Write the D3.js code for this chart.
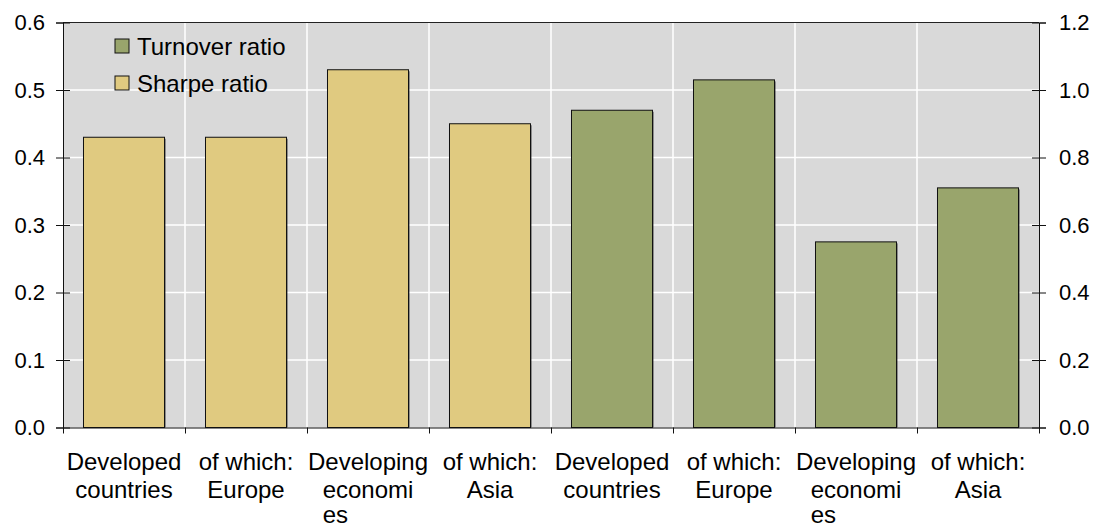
<!DOCTYPE html>
<html>
<head>
<meta charset="utf-8">
<script src="https://cdn.jsdelivr.net/npm/d3@7"></script>
<style>
    body { margin: 0; background: #fff; }
    svg { display: block; font-family: "Liberation Sans", Arial, sans-serif; }
</style>
</head>
<body>
<svg id="chart"></svg>
<script>
// categories (each entry = wrapped label lines)
const categories = [
    ["Developed", "countries"],
    ["of which:", "Europe"],
    ["Developing", "economi", "es"],
    ["of which:", "Asia"],
    ["Developed", "countries"],
    ["of which:", "Europe"],
    ["Developing", "economi", "es"],
    ["of which:", "Asia"]
];
// Sharpe ratio on left axis (first four categories)
const sharpeRatio = [0.43, 0.43, 0.53, 0.45];
// Turnover ratio on right axis (last four categories)
const turnoverRatio = [0.94, 1.03, 0.55, 0.71];
const leftTicks = [0, 0.1, 0.2, 0.3, 0.4, 0.5, 0.6];
const rightTicks = [0, 0.2, 0.4, 0.6, 0.8, 1.0, 1.2];

const width = 1096, height = 528;
const margin = { top: 22.5, right: 57, bottom: 100.5, left: 63 };
const plotW = width - margin.left - margin.right;
const plotH = height - margin.top - margin.bottom;

const colors = { sharpe: "#e0ca80", turnover: "#99a56c", bg: "#d9d9d9" };

const svg = d3.select("#chart")
    .attr("width", width)
    .attr("height", height);

const g = svg.append("g")
    .attr("transform", `translate(${margin.left},${margin.top})`);

// Scales
const x = d3.scaleBand()
    .domain(d3.range(categories.length))
    .range([0, plotW])
    .paddingInner(0.336)
    .paddingOuter(0.168);

const xEdge = d3.scaleLinear()
    .domain([0, categories.length])
    .range([0, plotW]);

const yLeft = d3.scaleLinear().domain([0, 0.6]).range([plotH, 0]);
const yRight = d3.scaleLinear().domain([0, 1.2]).range([plotH, 0]);

// Plot background
g.append("rect")
    .attr("width", plotW)
    .attr("height", plotH)
    .attr("fill", colors.bg);

// Grid
g.append("g")
    .selectAll("line")
    .data(leftTicks.slice(1, -1))
    .join("line")
    .attr("x1", 0).attr("x2", plotW)
    .attr("y1", d => yLeft(d)).attr("y2", d => yLeft(d))
    .attr("stroke", "#fff")
    .attr("stroke-width", 1.5);

g.append("g")
    .selectAll("line")
    .data(d3.range(1, categories.length))
    .join("line")
    .attr("x1", d => xEdge(d)).attr("x2", d => xEdge(d))
    .attr("y1", 0).attr("y2", plotH)
    .attr("stroke", "#fff")
    .attr("stroke-width", 1.5);

// Bars
const bars = [
    ...sharpeRatio.map((v, i) => ({ idx: i, y: yLeft(v), fill: colors.sharpe })),
    ...turnoverRatio.map((v, i) => ({ idx: i + sharpeRatio.length, y: yRight(v), fill: colors.turnover }))
];

g.append("g")
    .selectAll("rect")
    .data(bars)
    .join("rect")
    .attr("x", d => x(d.idx) + 1.5)
    .attr("y", d => d.y + 1.5)
    .attr("width", x.bandwidth())
    .attr("height", d => plotH - d.y - 1.5)
    .attr("fill", "rgba(0,0,0,0.35)");

g.append("g")
    .selectAll("rect")
    .data(bars)
    .join("rect")
    .attr("x", d => x(d.idx))
    .attr("y", d => d.y)
    .attr("width", x.bandwidth())
    .attr("height", d => plotH - d.y)
    .attr("fill", d => d.fill)
    .attr("stroke", "#111")
    .attr("stroke-width", 1);

// Plot frame (top border)
g.append("line")
    .attr("x1", 0).attr("x2", plotW)
    .attr("y1", 0).attr("y2", 0)
    .attr("stroke", "#222");

// Axes
const leftAxis = g.append("g")
    .call(d3.axisLeft(yLeft)
        .tickValues(leftTicks)
        .tickSize(7)
        .tickPadding(11)
        .tickFormat(d3.format(".1f")));
g.append("g")
    .call(d3.axisRight(yLeft).tickValues(leftTicks).tickSize(7).tickFormat(""))
    .call(s => s.select(".domain").remove());

const rightAxis = g.append("g")
    .attr("transform", `translate(${plotW},0)`)
    .call(d3.axisRight(yRight)
        .tickValues(rightTicks)
        .tickSize(7)
        .tickPadding(13)
        .tickFormat(d3.format(".1f")));
g.append("g")
    .attr("transform", `translate(${plotW},0)`)
    .call(d3.axisLeft(yRight).tickValues(rightTicks).tickSize(7).tickFormat(""))
    .call(s => s.select(".domain").remove());

const bottomAxis = g.append("g")
    .attr("transform", `translate(0,${plotH})`)
    .call(d3.axisBottom(xEdge)
        .tickValues(d3.range(categories.length + 1))
        .tickSize(6)
        .tickSizeOuter(0)
        .tickFormat(""));

svg.selectAll(".domain, .tick line").attr("stroke", "#111");
[leftAxis, rightAxis].forEach(a => a.selectAll(".tick text")
    .attr("font-size", 22)
    .attr("font-family", "Liberation Sans, Arial, sans-serif")
    .attr("fill", "#000"));

// Category labels
const labelFont = 24;
const lineOffsets = [42.5, 70.5, 95];
const labels = g.append("g")
    .attr("font-size", labelFont)
    .attr("fill", "#000");

categories.forEach((lines, i) => {
    const cx = x(i) + x.bandwidth() / 2;
    let lastLeft = cx;
    lines.forEach((txt, j) => {
        const t = labels.append("text")
            .attr("y", plotH + lineOffsets[j])
            .text(txt);
        if (j < 2) {
            t.attr("x", cx).attr("text-anchor", "middle");
            lastLeft = cx - t.node().getComputedTextLength() / 2;
        } else {
            // overflow piece of the word stays at the left edge of the line above
            t.attr("x", lastLeft).attr("text-anchor", "start");
        }
    });
});

// Legend
const legendItems = [
    { name: "Turnover ratio", fill: colors.turnover },
    { name: "Sharpe ratio", fill: colors.sharpe }
];
const legend = svg.append("g")
    .attr("transform", "translate(115,39)")
    .selectAll("g")
    .data(legendItems)
    .join("g")
    .attr("transform", (d, i) => `translate(0,${i * 37})`);

legend.append("rect")
    .attr("width", 14)
    .attr("height", 14)
    .attr("fill", d => d.fill)
    .attr("stroke", "#111");

legend.append("text")
    .attr("x", 22)
    .attr("y", 15.5)
    .attr("font-size", 24)
    .attr("fill", "#000")
    .text(d => d.name);
</script>
</body>
</html>
